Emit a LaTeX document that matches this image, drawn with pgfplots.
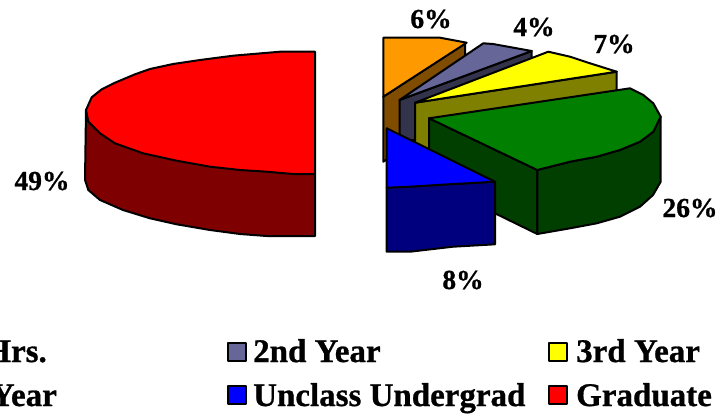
\documentclass[border=0pt]{standalone}
\usepackage{pgfplots}
\pgfplotsset{compat=1.18}
\usepackage{fontspec}
\setmainfont[BoldFeatures={FakeBold=0.8}]{Liberation Serif}
\definecolor{cOrange}{HTML}{FF9900}
\definecolor{cOrangeD}{HTML}{7F4C00}
\definecolor{cGray}{HTML}{666699}
\definecolor{cGrayD}{HTML}{33334C}
\definecolor{cYellow}{HTML}{FFFF00}
\definecolor{cYellowD}{HTML}{7F7F00}
\definecolor{cGreen}{HTML}{007F00}
\definecolor{cGreenD}{HTML}{003F00}
\definecolor{cBlue}{HTML}{0000FF}
\definecolor{cBlueD}{HTML}{00007F}
\definecolor{cRed}{HTML}{FF0000}
\definecolor{cRedD}{HTML}{7F0000}
\begin{document}
\begin{tikzpicture}
\clip (0,0) rectangle (719pt,416pt);
\begin{axis}[at={(0,0)},anchor=south west,hide axis,scale only axis,width=719pt,height=416pt,
  xmin=0,xmax=719,ymin=0,ymax=416,y dir=reverse,clip=false,
  every axis plot/.append style={draw=black,line width=2pt,line join=round,mark=none}]
% Graduate
\addplot[fill=cRedD] coordinates {(86,110) (85,180) (88.3,190) (100,200) (123,210) (150,218.3) (176.7,224.3) (210,230) (240,234) (266.7,236) (315,236) (315,174)} -- cycle;
\addplot[fill=cRed] coordinates {(315,51.7) (280,51.7) (233,55.7) (200,60) (173,64) (150,69) (135,74.3) (115,82.7) (101.7,89.3) (91.7,97.3) (86,110) (88.3,121.7) (100,133.3) (115,143.3) (143,153.3) (176.7,160.7) (210,166.7) (240,170) (266.7,171.7) (293,174) (315,174)} -- cycle;
% first slice
\addplot[fill=cOrangeD] coordinates {(383.3,96.7) (465,43) (465,108) (383.3,161.7)} -- cycle;
\addplot[fill=cOrange] coordinates {(383.3,37.7) (440,37.7) (466.7,42.7) (383.3,96.7)} -- cycle;
% 2nd Year
\addplot[fill=cGrayD] coordinates {(399.5,100) (531.7,51) (531.7,84) (420,140) (399.5,140)} -- cycle;
\addplot[fill=cGray] coordinates {(399.5,100) (483.3,43.3) (493,44) (531.7,51)} -- cycle;
% 3rd Year
\addplot[fill=cYellowD] coordinates {(415,102.7) (616.7,71.7) (616.7,136) (415,167)} -- cycle;
\addplot[fill=cYellow] coordinates {(415,102.7) (548.3,51.7) (570,56.7) (590,63.3) (616.7,71.7)} -- cycle;
% next slice
\addplot[fill=cGreenD] coordinates {(429,118.3) (537.3,170) (537.3,234) (429,181)} -- cycle;
\addplot[fill=cGreenD] coordinates {(660.7,116.7) (660.7,181.7) (653,195) (640,206.7) (620,216.7) (596.7,223.3) (570,228.3) (537.3,234) (537.3,170) (570,161.7) (596.7,156.7) (620,150) (640,141.7) (653.3,131.7)} -- cycle;
\addplot[fill=cGreen] coordinates {(429,118.3) (630,88.3) (643.3,95) (653.3,103.3) (660.7,116.7) (653.3,131.7) (640,141.7) (620,150) (596.7,156.7) (570,161.7) (537.3,170)} -- cycle;
% Unclass Undergrad
\addplot[fill=cBlueD] coordinates {(386.7,187.7) (495,181.7) (495,244.3) (453,246.7) (410,251.7) (386.7,251.7)} -- cycle;
\addplot[fill=cBlue] coordinates {(386.7,128.3) (495,181.7) (436.7,185) (410,186.7) (386.7,187.7)} -- cycle;
% legend swatches
\addplot[fill=cGray] coordinates {(227.5,343) (246,343) (246,361) (227.5,361)} -- cycle;
\addplot[fill=cYellow] coordinates {(548.5,343) (567,343) (567,361) (548.5,361)} -- cycle;
\addplot[fill=cBlue] coordinates {(227.5,386) (246,386) (246,404) (227.5,404)} -- cycle;
\addplot[fill=cRed] coordinates {(548.5,386) (567,386) (567,404) (548.5,404)} -- cycle;
% data labels
\newcommand{\lab}{\fontsize{27.5}{27.5}\selectfont\bfseries}
\node[anchor=base,inner sep=0pt] at (axis cs:431,28) {\lab 6\%};
\node[anchor=base,inner sep=0pt] at (axis cs:534,36) {\lab 4\%};
\node[anchor=base,inner sep=0pt] at (axis cs:614,53) {\lab 7\%};
\node[anchor=base,inner sep=0pt] at (axis cs:690,217) {\lab 26\%};
\node[anchor=base,inner sep=0pt] at (axis cs:463,289) {\lab 8\%};
\node[anchor=base,inner sep=0pt] at (axis cs:42,190) {\lab 49\%};
% legend text
\newcommand{\leg}{\fontsize{33}{33}\selectfont\bfseries}
\node[anchor=base east,inner sep=0pt] at (axis cs:47,362) {\leg Hrs.};
\node[anchor=base east,inner sep=0pt] at (axis cs:57,406) {\leg Year};
\node[anchor=base west,inner sep=0pt] at (axis cs:253,362) {\leg 2nd Year};
\node[anchor=base west,inner sep=0pt] at (axis cs:253,406) {\leg Unclass Undergrad};
\node[anchor=base west,inner sep=0pt] at (axis cs:576,362) {\leg 3rd Year};
\node[anchor=base west,inner sep=0pt] at (axis cs:576,406) {\leg Graduate};
\end{axis}
\end{tikzpicture}
\end{document}
